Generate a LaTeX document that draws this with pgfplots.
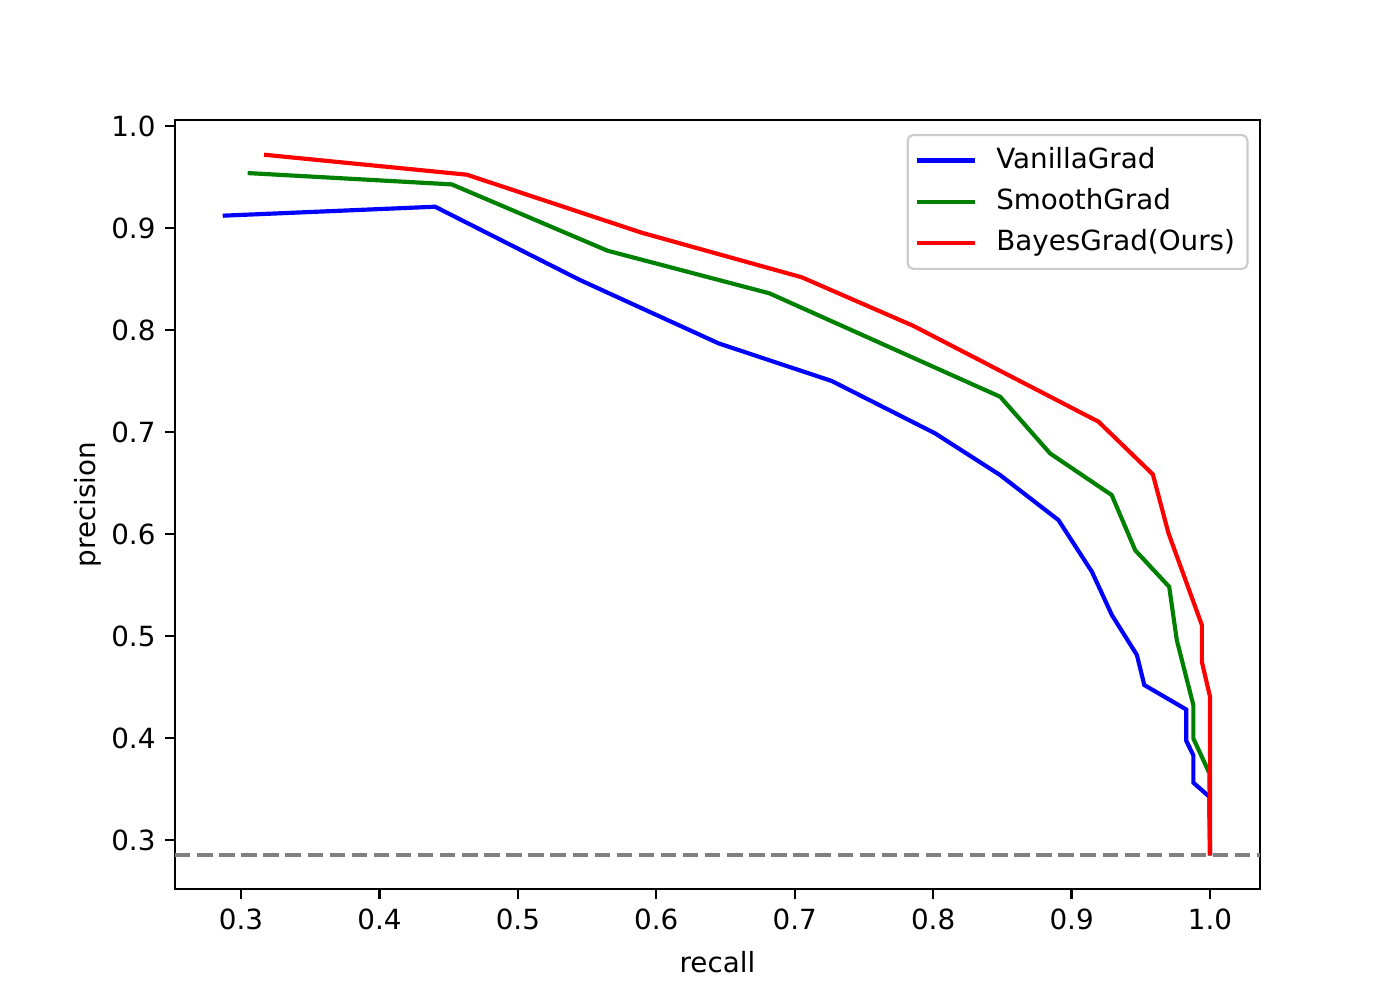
\documentclass[border=0pt]{standalone}
\usepackage{fontspec}
\setmainfont{DejaVu Sans}
\usepackage{pgfplots}
\pgfplotsset{compat=1.18}
\definecolor{mplblue}{HTML}{0000FF}
\definecolor{mplgreen}{HTML}{008000}
\definecolor{mplred}{HTML}{FF0000}
\definecolor{mplgray}{HTML}{808080}
\definecolor{legedge}{HTML}{CCCCCC}
\begin{document}
\fontsize{10}{12}\selectfont
\begin{tikzpicture}
\useasboundingbox (0,0) rectangle (504pt,360pt);
\begin{axis}[
  at={(63pt,39.96pt)}, anchor=south west,
  scale only axis, width=390.6pt, height=276.84pt,
  xmin=0.2523, xmax=1.0361, ymin=0.252, ymax=1.0059,
  xtick={0.3,0.4,0.5,0.6,0.7,0.8,0.9,1.0},
  ytick={0.3,0.4,0.5,0.6,0.7,0.8,0.9,1.0},
  tick align=outside, major tick length=3.5pt,
  tick style={line width=0.8pt, black},
  axis line style={line width=0.8pt},
  xtick pos=bottom, ytick pos=left,
  /pgf/number format/.cd, fixed, fixed zerofill, precision=1, assume math mode=true,
  /pgfplots/.cd,
  ticklabel style={font=\fontsize{10}{12}\selectfont},
  xlabel={recall}, ylabel={precision},
  xlabel style={at={(axis description cs:0.5,0)}, anchor=center, yshift=-26.3pt},
  ylabel style={at={(axis description cs:-0.0801,0.5)}, anchor=center},
  legend style={at={(axis description cs:0.9895,0.982)}, anchor=north east,
    draw=legedge, rounded corners=2pt, fill=white, line width=0.8pt,
    inner xsep=2.5pt, inner ysep=2pt, row sep=0.5pt,
    nodes={inner sep=2pt, text height=7.9pt, text depth=2.5pt},
    /tikz/every even column/.append style={column sep=0pt},
    /tikz/every odd column/.append style={column sep=5pt}},
  legend cell align=left,
  legend image code/.code={\draw[#1] (0pt,0pt) -- (20.9pt,0pt);},
]
\addplot[mplgray, line width=1.5pt, dash pattern=on 5.55pt off 2.4pt, forget plot]
  coordinates {(0.2523,0.2853) (1.0361,0.2853)};
\addplot[mplblue, line width=1.5pt] coordinates {
(0.2868,0.9121) (0.4402,0.9209) (0.5449,0.849) (0.6449,0.787) (0.7268,0.750)
(0.8014,0.6987) (0.8484,0.6578) (0.8905,0.6137) (0.9147,0.563) (0.9291,0.5206)
(0.9472,0.4814) (0.9525,0.452) (0.9828,0.428) (0.9828,0.3974) (0.988,0.383)
(0.988,0.3562) (0.9995,0.3425) (1.0,0.285)};
\addlegendentry{VanillaGrad}
\addplot[mplgreen, line width=1.5pt] coordinates {
(0.3048,0.9539) (0.4522,0.9428) (0.5647,0.8778) (0.6817,0.836) (0.8484,0.7346)
(0.8845,0.679) (0.929,0.6382) (0.946,0.584) (0.9705,0.5483) (0.976,0.496)
(0.988,0.432) (0.988,0.3995) (0.9996,0.3654) (1.0,0.285)};
\addlegendentry{SmoothGrad}
\addplot[mplred, line width=1.5pt] coordinates {
(0.3166,0.9719) (0.4631,0.9523) (0.5895,0.8954) (0.7051,0.8517) (0.7858,0.804)
(0.9195,0.7101) (0.9587,0.6585) (0.970,0.6007) (0.9941,0.5108) (0.9941,0.4748)
(1.0,0.4405) (1.0,0.285)};
\addlegendentry{BayesGrad(Ours)}
\end{axis}
\end{tikzpicture}
\end{document}
